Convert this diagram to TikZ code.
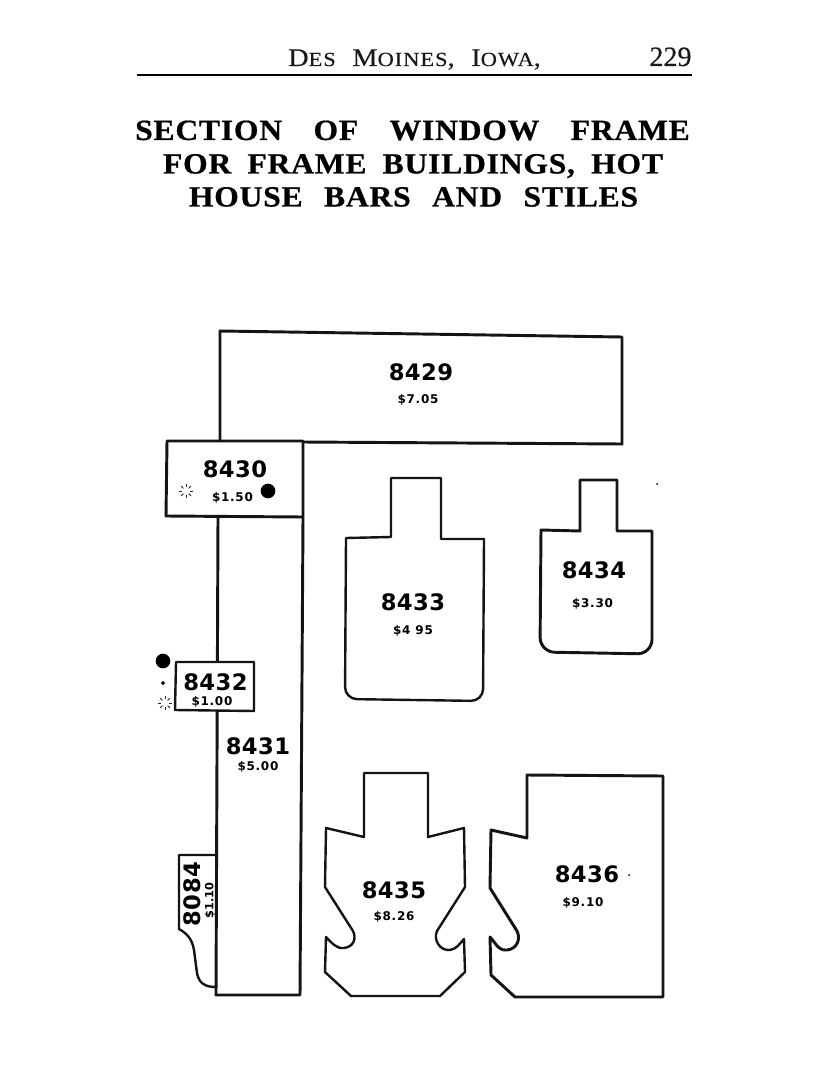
\documentclass[tikz,border=0pt]{standalone}
\usepackage{fontspec}
\setmainfont{Liberation Serif}
\newfontfamily\titlefont[LetterSpace=2.5,FakeStretch=1.08,FakeBold=0.6]{Liberation Serif Bold}
\newfontfamily\headfont[LetterSpace=5,FakeStretch=1.12,FakeBold=0.3]{Liberation Serif}
\newfontfamily\pagefont[FakeBold=0.3]{Liberation Serif}
\newfontfamily\numfont[LetterSpace=2]{DejaVu Sans Bold}
\newfontfamily\pricefont[LetterSpace=6]{DejaVu Sans Bold}
\newfontfamily\narrowprice{DejaVu Sans Bold}
\newcommand{\smc}[1]{{\fontsize{15}{16}\selectfont #1}}
\usetikzlibrary{shapes.geometric,calc}
\tikzset{
  profile/.style={draw=black!92,line width=1.8pt,line join=round,line cap=round},
  heavy/.style={profile,line width=2.2pt},
  pnum/.style={inner sep=0pt,text=black,font=\fontsize{17}{18}\numfont},
  pprice/.style={inner sep=0pt,text=black,yshift=-.8pt,font=\fontsize{9}{10}\pricefont},
  titleline/.style={inner sep=0pt,anchor=base,text=black,font=\fontsize{22}{24}\titlefont},
  header/.style={inner sep=0pt,anchor=base,text=black!90,font=\fontsize{19}{20}\headfont},
  pageno/.style={inner sep=0pt,anchor=base,text=black!90,font=\fontsize{21}{22}\pagefont},
  bigdot/.style={circle,fill=black,inner sep=0pt,minimum size=11pt},
  smalldot/.style={diamond,fill=black,inner sep=0pt,minimum size=3.5pt},
  speck/.style={circle,fill=black,inner sep=0pt,minimum size=1.5pt},
  spark/.style={line width=.6pt,draw=black!85}
}
\newcommand{\asterism}[2]{%
  \foreach \a in {0,45,...,315}{
    \draw[spark] ($(#1,#2)+(\a:3.6)$) -- ($(#1,#2)+(\a:7)$);
  }}
\begin{document}
\begin{tikzpicture}[x=.75pt,y=-.75pt]
\useasboundingbox (0,0) rectangle (835,1080);
\fill[white] (0,0) rectangle (835,1080);

% header
\node[header] (hd) at (414.5,66) {\makebox[189.5pt][s]{D\smc{ES}\hfill M\smc{OINES},\hfill I\smc{OWA},}};
\node[pageno] (pg) at (670.5,66) {229};
\coordinate (ruleL) at (137,75);
\coordinate (ruleR) at (692,75);
\draw[line width=1.1pt] (ruleL) -- (ruleR);

% title
\node[titleline] (t1) at (412.5,140) {\makebox[416pt][s]{SECTION\hfill OF\hfill WINDOW\hfill FRAME}};
\node[titleline] (t2) at (413,173.5) {\makebox[375pt][s]{FOR\hfill FRAME\hfill BUILDINGS,\hfill HOT}};
\node[titleline] (t3) at (413.5,206.5) {\makebox[337pt][s]{HOUSE\hfill BARS\hfill AND\hfill STILES}};

% 8084 behind 8431
\draw[profile] (216,855) -- (179,855) -- (179,929) .. controls (186,933) and (192,938) .. (194,950)
  -- (197,973) .. controls (199,984) and (206,987) .. (216,987);

% 8431
\draw[heavy] (218,518) -- (216,995) -- (300,995) -- (303,518);

% 8429
\draw[heavy] (220,441) -- (220,331) -- (622,337) -- (622,444) -- (303,442);

% 8430
\draw[heavy] (167,441) -- (303,441) -- (303,517) -- (166,516) -- cycle;

% 8432
\draw[profile,fill=white] (176,662) -- (254,662) -- (254,711) -- (175,710) -- cycle;

% 8433
\draw[profile] (391,537) -- (391,478) -- (441,478) -- (441,539) -- (484,539)
  [rounded corners=9pt] -- (483,701) -- (345,699) [sharp corners] -- (346,538) -- cycle;

% 8434
\draw[heavy] (580,531) -- (580,480) -- (617,480) -- (617,531) -- (652,531)
  [rounded corners=11pt] -- (652,654) -- (540,652) [sharp corners] -- (541,530) -- cycle;

% 8435
\draw[profile] (364,837) -- (364,773) -- (428,773) -- (428,837) -- (464,828) -- (465,887)
  -- (437,931) .. controls (433,940) and (440,951) .. (450,950) .. controls (457,949) and (460,943) .. (464,939)
  -- (465,972) -- (440,996) -- (351,996) -- (325,972) -- (326,937)
  .. controls (331,942) and (336,949) .. (344,948) .. controls (353,947) and (357,939) .. (353,931)
  -- (325,887) -- (326,828) -- cycle;

% 8436
\draw[heavy] (527,838) -- (527,775) -- (663,776) -- (663,997) -- (515,997) -- (491,975) -- (490,937)
  .. controls (495,942) and (498,951) .. (507,950) .. controls (517,949) and (521,939) .. (517,931)
  -- (490,888) -- (491,830) -- cycle;

% labels
\node[pnum] (n8429) at (421,372) {8429};
\node[pprice] (p8429) at (418,399) {\$7.05};
\node[pnum] (n8430) at (235,469) {8430};
\node[pprice] (p8430) at (232.5,497) {\$1.50};
\node[pnum] (n8431) at (258,746) {8431};
\node[pprice] (p8431) at (258,766) {\$5.00};
\node[pnum] (n8432) at (215.5,682) {8432};
\node[pprice] (p8432) at (212,701) {\$1.00};
\node[pnum] (n8433) at (413,602) {8433};
\node[pprice] (p8433) at (413,630) {\$4 95};
\node[pnum] (n8434) at (594,570) {8434};
\node[pprice] (p8434) at (592.5,603) {\$3.30};
\node[pnum] (n8435) at (394,890) {8435};
\node[pprice] (p8435) at (394,916) {\$8.26};
\node[pnum] (n8436) at (587,874) {8436};
\node[pprice] (p8436) at (583,902) {\$9.10};
\node[pnum,rotate=90] (n8084) at (192,894) {8084};
\node[inner sep=0pt,text=black,rotate=90,font=\fontsize{8.5}{9}\narrowprice] (p8084) at (210,900.5) {\$1.10};

% marks
\node[bigdot] (d1) at (268,491) {};
\node[bigdot] (d2) at (163,661) {};
\node[smalldot] (d3) at (163,683) {};
\asterism{186}{491}
\asterism{165}{703}
\node[speck] (s1) at (629,875) {};
\node[speck] (s2) at (657,484) {};
\end{tikzpicture}
\end{document}
